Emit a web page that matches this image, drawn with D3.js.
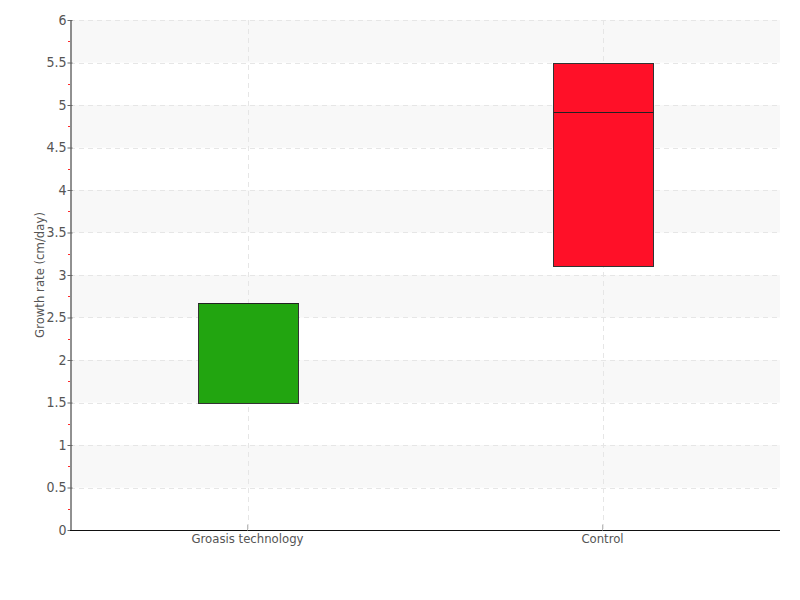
<!DOCTYPE html>
<html><head><meta charset="utf-8">
<script src="https://d3js.org/d3.v7.min.js"></script>
<style>body{margin:0;background:#fff}svg{display:block}text{font-family:"DejaVu Sans Condensed","DejaVu Sans",sans-serif;font-stretch:condensed}</style>
</head><body><svg id="c" width="800" height="600"></svg>
<script>
const categories = ["Groasis technology", "Control"];
const boxLow = [1.5, 3.1];
const boxHigh = [2.67, 5.5];
const medians = [2.67, 4.92];
const colors = ["#22a510", "#ff1028"];
const yTicks = [0, 0.5, 1, 1.5, 2, 2.5, 3, 3.5, 4, 4.5, 5, 5.5, 6];
const yLabel = "Growth rate (cm/day)";

const svg = d3.select("#c");
const L = 70, R = 780, T = 20, B = 530;
const x = d3.scaleBand().domain(categories).range([L, R]);
const y = d3.scaleLinear().domain([0, 6]).range([B, T]);
const FF = '"DejaVu Sans Condensed","DejaVu Sans",sans-serif';

// bands
const bands = [[5.5,6],[4.5,5],[3.5,4],[2.5,3],[1.5,2],[0.5,1]];
svg.append("g").selectAll("rect").data(bands).join("rect")
  .attr("x", L).attr("width", R - L)
  .attr("y", d => y(d[1])).attr("height", d => y(d[0]) - y(d[1]))
  .attr("fill", "#f8f8f8");
// horizontal grid
svg.append("g").selectAll("line").data(yTicks.filter(d => d > 0)).join("line")
  .attr("x1", L).attr("x2", R)
  .attr("y1", d => Math.round(y(d)) + 0.5).attr("y2", d => Math.round(y(d)) + 0.5)
  .attr("stroke", "#e6e6e6").attr("stroke-dasharray", "5,4");
// vertical grid
svg.append("g").selectAll("line").data(categories).join("line")
  .attr("x1", d => Math.round(x(d) + x.bandwidth()/2) + 0.5)
  .attr("x2", d => Math.round(x(d) + x.bandwidth()/2) + 0.5)
  .attr("y1", T).attr("y2", B)
  .attr("stroke", "#e6e6e6").attr("stroke-dasharray", "5,4");

// boxes
const bw = 100;
const g = svg.append("g");
categories.forEach((c, i) => {
  const cx = x(c) + x.bandwidth()/2;
  g.append("rect")
    .attr("x", Math.round(cx - bw/2) + 0.5).attr("width", bw)
    .attr("y", Math.round(y(boxHigh[i])) + 0.5)
    .attr("height", Math.round(y(boxLow[i])) - Math.round(y(boxHigh[i])))
    .attr("fill", colors[i]).attr("stroke", "#333").attr("stroke-width", 1);
  g.append("line")
    .attr("x1", Math.round(cx - bw/2) + 0.5).attr("x2", Math.round(cx + bw/2) + 0.5)
    .attr("y1", Math.round(y(medians[i])) + 0.5).attr("y2", Math.round(y(medians[i])) + 0.5)
    .attr("stroke", "#222").attr("stroke-width", 1);
});

// minor ticks (red)
const minor = d3.range(0.25, 6, 0.5);
svg.append("g").selectAll("line").data(minor).join("line")
  .attr("x1", L - 2).attr("x2", L)
  .attr("y1", d => Math.round(y(d)) + 0.5).attr("y2", d => Math.round(y(d)) + 0.5)
  .attr("stroke", "#ff2a2a");

// y axis
const ya = svg.append("g").attr("transform", `translate(${L + 0.5},0)`)
  .call(d3.axisLeft(y).tickValues(yTicks).tickSize(4).tickSizeOuter(0).tickFormat(d3.format("")));
ya.select(".domain").attr("stroke", "#222");
ya.selectAll(".tick line").attr("stroke", "#666").attr("x1", -3).attr("x2", 2);
ya.selectAll(".tick text").attr("fill", "#555").attr("font-size", 14).attr("x", -4)
  .style("font-family", FF);

// x axis
const xa = svg.append("g").attr("transform", `translate(0,${B + 0.5})`)
  .call(d3.axisBottom(x).tickSize(0).tickSizeOuter(0));
xa.select(".domain").attr("stroke", "#111").attr("d", `M${L},0H${R}`);
xa.selectAll(".tick line").remove();
xa.selectAll(".tick").append("line").attr("y1", -6).attr("y2", 0).attr("stroke", "#bbb");
xa.selectAll(".tick text").attr("fill", "#555").attr("font-size", 13).attr("dy", "0.95em").attr("y", 0)
  .style("font-family", FF);

// y label
svg.append("text").attr("transform", `translate(44,${(T + B)/2}) rotate(-90)`)
  .attr("text-anchor", "middle").attr("font-size", 13).attr("fill", "#555")
  .style("font-family", FF)
  .text(yLabel);
</script></body></html>
